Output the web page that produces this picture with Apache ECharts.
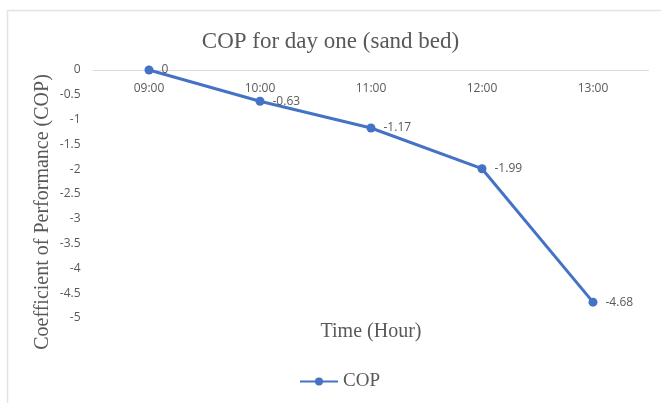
<!DOCTYPE html>
<html>
<head>
<meta charset="utf-8">
<script src="https://cdn.jsdelivr.net/npm/echarts@6/dist/echarts.min.js"></script>
<style>
  html, body { margin: 0; padding: 0; background: #fff; }
  #chart { width: 661px; height: 403px; }
</style>
</head>
<body>
<div id="chart"></div>
<script>
// Hourly coefficient of performance, first day, sand bed
const hours = ['09:00', '10:00', '11:00', '12:00', '13:00'];
const copValues = [0, -0.63, -1.17, -1.99, -4.68];
const yTicks = { min: -5, max: 0, step: 0.5 };
const yTitle = 'Coefficient of Performance (COP)';

const textGrey = '#595959';
const serif = '"Liberation Serif", "Times New Roman", serif';
const sans = '"Open Sans", "Liberation Sans", sans-serif';

const chart = echarts.init(document.getElementById('chart'), null, { renderer: 'canvas' });

chart.setOption({
  animation: false,
  backgroundColor: '#fff',
  graphic: [{
    type: 'rect',
    shape: { x: 7.5, y: 10.5, width: 670, height: 410 },
    style: { fill: 'none', stroke: '#e3e3e3', lineWidth: 1.5 },
    silent: true
  }, {
    // vertical value-axis title
    type: 'text',
    x: 43,
    y: 212,
    rotation: Math.PI / 2,
    style: {
      text: yTitle,
      fill: textGrey,
      font: '20px ' + serif,
      textAlign: 'center',
      textVerticalAlign: 'middle'
    },
    silent: true
  }],
  title: {
    text: 'COP for day one (sand bed)',
    left: 'center',
    top: 25,
    textStyle: { fontFamily: serif, fontSize: 23, fontWeight: 'normal', color: textGrey }
  },
  legend: {
    bottom: 7,
    left: 294,
    itemWidth: 38,
    itemHeight: 10,
    itemGap: 2,
    textStyle: { fontFamily: serif, fontSize: 19, color: textGrey },
    data: ['COP']
  },
  grid: { left: 93.5, right: 12.5, top: 70, bottom: 85 },
  xAxis: [{
    // category axis drawn along the zero line (top of the plot), labels hanging below it
    type: 'category',
    position: 'top',
    data: hours,
    boundaryGap: true,
    axisLine: { onZero: false, lineStyle: { color: '#d9d9d9', width: 1 } },
    axisTick: { show: false },
    axisLabel: { inside: true, color: textGrey, fontFamily: sans, fontSize: 12, margin: 13 },
    splitLine: { show: false }
  }, {
    // bottom axis only carries the axis title
    type: 'category',
    position: 'bottom',
    data: hours,
    axisLine: { show: false },
    axisTick: { show: false },
    axisLabel: { show: false },
    name: 'Time (Hour)',
    nameLocation: 'middle',
    nameGap: 4,
    nameTextStyle: { fontFamily: serif, fontSize: 20, color: textGrey }
  }],
  yAxis: {
    type: 'value',
    min: yTicks.min,
    max: yTicks.max,
    interval: yTicks.step,
    axisLine: { show: false },
    axisTick: { show: false },
    splitLine: { show: false },
    axisLabel: { color: textGrey, fontFamily: sans, fontSize: 12, margin: 13 }
  },
  series: [{
    name: 'COP',
    type: 'line',
    xAxisIndex: 0,
    data: copValues,
    symbol: 'circle',
    symbolSize: 9,
    lineStyle: { color: '#4472C4', width: 3 },
    itemStyle: { color: '#4472C4' },
    label: {
      show: true,
      position: 'right',
      distance: 8,
      color: textGrey,
      fontFamily: sans,
      fontSize: 12
    }
  }]
});
</script>
</body>
</html>
